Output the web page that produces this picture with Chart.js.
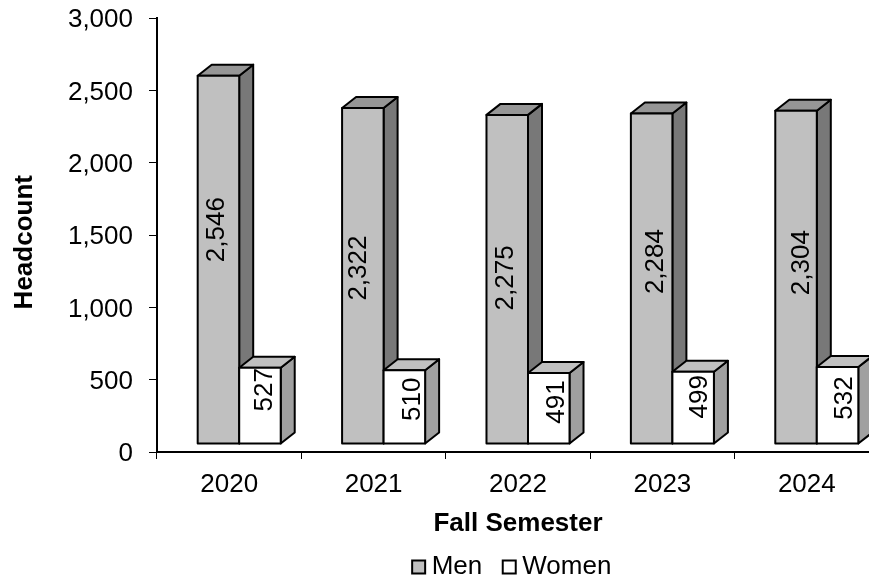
<!DOCTYPE html>
<html>
<head>
<meta charset="utf-8">
<script src="https://cdn.jsdelivr.net/npm/chart.js@4"></script>
<style>
    html, body { margin: 0; padding: 0; background: #fff; overflow: hidden; }
    canvas { display: block; }
</style>
</head>
<body>
<canvas id="headcountChart" width="869" height="577"></canvas>
<script>
const semesters = ['2020', '2021', '2022', '2023', '2024'];
const menCounts = [2546, 2322, 2275, 2284, 2304];
const womenCounts = [527, 510, 491, 499, 532];
const yTicks = [0, 500, 1000, 1500, 2000, 2500, 3000];

// 3d look of the old spreadsheet chart
const depthX = 14;
const depthY = 11;
const floorLift = 8;
const barShift = 10;
const plotOverrun = 10;
const plotTop = 18;
const plotBottom = 452;
const faces = [
    { front: '#c0c0c0', top: '#969696', side: '#787878' },
    { front: '#ffffff', top: '#c0c0c0', side: '#a0a0a0' }
];
// labels were placed by hand in the original: drop below bar top, nudge from bar centre
const labelDrop = [
    [154, 160, 163, 148, 152],
    [22, 29, 29, 25, 31]
];
const labelNudge = [
    [-1.5, -4, -1, 4, 5.5],
    [4.5, 8.5, 8, 6.5, 7]
];
const fontName = '"Liberation Sans", Arial, sans-serif';

function face(ctx, points, fill) {
    ctx.beginPath();
    points.forEach((p, i) => i ? ctx.lineTo(p[0], p[1]) : ctx.moveTo(p[0], p[1]));
    ctx.closePath();
    ctx.fillStyle = fill;
    ctx.fill();
    ctx.stroke();
}

const bars3d = {
    id: 'bars3d',
    beforeDatasetsDraw(chart) {
        const ctx = chart.ctx;
        ctx.save();
        ctx.strokeStyle = '#000';
        ctx.lineWidth = 2;
        ctx.lineJoin = 'round';
        semesters.forEach((s, i) => {
            chart.data.datasets.forEach((ds, d) => {
                const el = chart.getDatasetMeta(d).data[i];
                const l = el.x - el.width / 2 + barShift;
                const r = el.x + el.width / 2 + barShift;
                const t = el.y - floorLift;
                const b = el.base - floorLift;
                const c = faces[d];
                face(ctx, [[r, t], [r + depthX, t - depthY], [r + depthX, b - depthY], [r, b]], c.side);
                face(ctx, [[l, t], [l + depthX, t - depthY], [r + depthX, t - depthY], [r, t]], c.top);
                face(ctx, [[l, t], [r, t], [r, b], [l, b]], c.front);

                ctx.save();
                ctx.translate((l + r) / 2 + labelNudge[d][i], t + labelDrop[d][i]);
                ctx.rotate(-Math.PI / 2);
                ctx.fillStyle = '#000';
                ctx.font = '26px ' + fontName;
                ctx.textAlign = 'center';
                ctx.textBaseline = 'middle';
                ctx.fillText(ds.data[i].toLocaleString('en-US'), 0, 0);
                ctx.restore();
            });
        });
        ctx.restore();
        return false;
    },
    afterLayout(chart) {
        // the plot runs past the right edge of the picture
        const x = chart.scales.x;
        const y = chart.scales.y;
        y.top = plotTop;
        y.bottom = plotBottom;
        y.height = plotBottom - plotTop;
        y.configure();
        x.right += plotOverrun;
        x.width += plotOverrun;
        x.top = plotBottom;
        x.bottom = plotBottom + 87;
        x.configure();
        // legend sits under the plot centre and low in the frame
        chart.legend.left += 76.5;
        chart.legend.right += 76.5;
        chart.legend.top += 13;
        chart.legend.bottom += 13;
    }
};

new Chart(document.getElementById('headcountChart'), {
    type: 'bar',
    plugins: [bars3d],
    data: {
        labels: semesters,
        datasets: [
            { label: 'Men', data: menCounts, backgroundColor: faces[0].front, borderColor: '#000', borderWidth: 2 },
            { label: 'Women', data: womenCounts, backgroundColor: faces[1].front, borderColor: '#000', borderWidth: 2 }
        ]
    },
    options: {
        responsive: false,
        animation: false,
        layout: { padding: { top: 3, right: 0, bottom: 0, left: 8 } },
        datasets: { bar: { categoryPercentage: 0.575, barPercentage: 1 } },
        plugins: {
            tooltip: { enabled: false },
            legend: {
                position: 'bottom',
                labels: {
                    color: '#000',
                    font: { family: fontName, size: 26 },
                    usePointStyle: true,
                    pointStyle: 'rect',
                    boxWidth: 0.01,
                    boxHeight: 13,
                    padding: 27
                }
            }
        },
        scales: {
            x: {
                grid: { offset: true, drawOnChartArea: false, color: '#000', tickLength: 7, lineWidth: 1 },
                border: { color: '#000', width: 2 },
                ticks: { color: '#000', font: { family: fontName, size: 26 }, padding: 10, maxRotation: 0 },
                title: {
                    display: true,
                    text: 'Fall Semester',
                    color: '#000',
                    font: { family: fontName, size: 26, weight: 'bold' },
                    padding: { top: 6, bottom: 0 }
                }
            },
            y: {
                min: 0,
                max: 3000,
                afterBuildTicks(axis) { axis.ticks = yTicks.map(v => ({ value: v })); },
                afterFit(axis) { axis.width = 149; },
                grid: { drawOnChartArea: false, color: '#000', tickLength: 8, lineWidth: 1 },
                border: { color: '#000', width: 2 },
                ticks: {
                    color: '#000',
                    font: { family: fontName, size: 26 },
                    padding: 16,
                    labelOffset: 2,
                    callback: v => v.toLocaleString('en-US')
                },
                title: {
                    display: true,
                    text: 'Headcount  ',
                    color: '#000',
                    font: { family: fontName, size: 26, weight: 'bold' },
                    padding: { top: 1, bottom: 0 }
                }
            }
        }
    }
});
</script>
</body>
</html>
